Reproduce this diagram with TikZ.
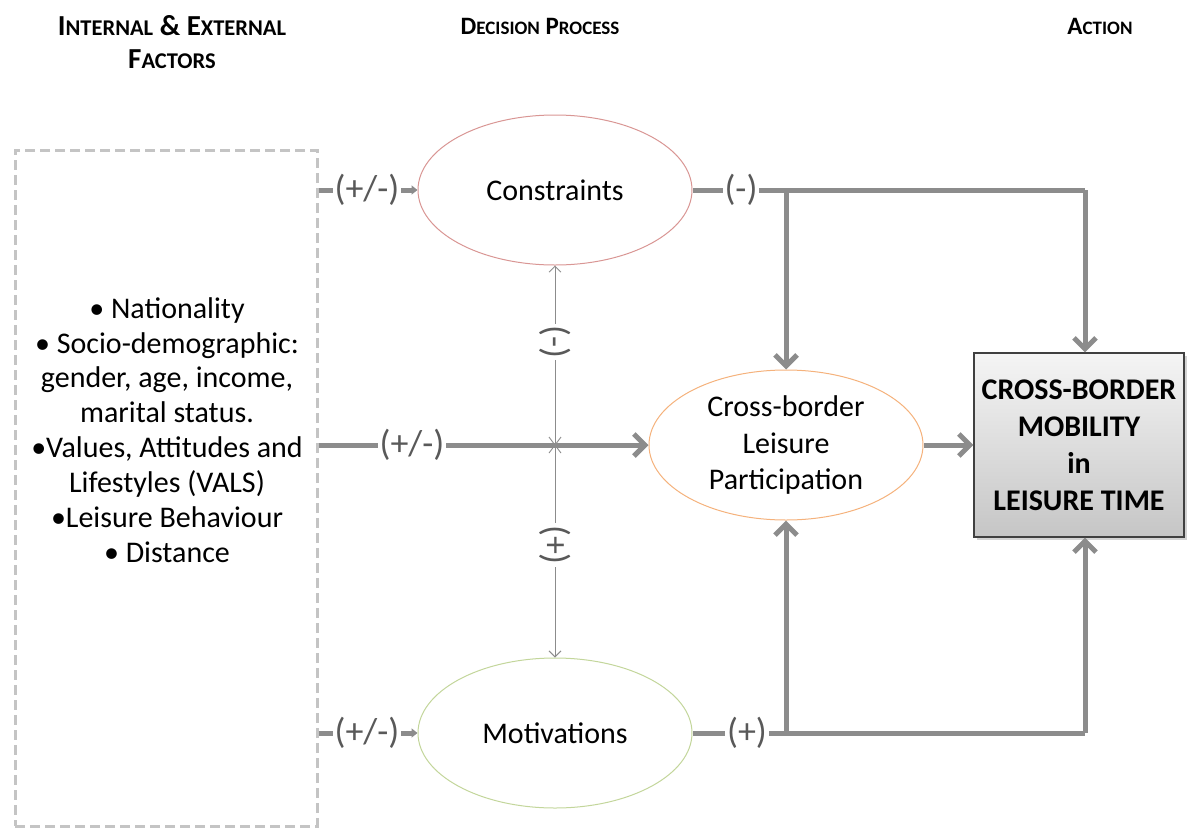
\documentclass[tikz,border=0pt]{standalone}
\usepackage{fontspec}
\setmainfont{Carlito}
\usetikzlibrary{arrows.meta,shapes.geometric,shadows,calc}

\definecolor{linegray}{HTML}{8C8C8C}
\definecolor{signgray}{HTML}{595959}
\definecolor{dashgray}{HTML}{C4C4C4}
\definecolor{consred}{HTML}{D99694}
\definecolor{partorange}{HTML}{F5B27C}
\definecolor{motigreen}{HTML}{C3D69B}

% fake small capitals for the column headings: #1 capital size, #2 small size
\newcommand\hscA[2]{{\fontsize{29}{30}\selectfont #1}{\fontsize{22.5}{30}\selectfont #2}}
\newcommand\hscB[2]{{\fontsize{25}{30}\selectfont #1}{\fontsize{19}{30}\selectfont #2}}

\tikzset{
  heading/.style={align=center, inner sep=0pt},
  factorbox/.style={draw=dashgray, line width=3pt, dash pattern=on 10pt off 5pt,
    minimum width=302pt, minimum height=676pt, inner sep=0pt},
  oval/.style={ellipse, line width=1pt, fill=white, minimum width=274pt,
    minimum height=150pt, inner sep=0pt, align=center,
    font=\fontsize{30}{36.5}\selectfont},
  actionbox/.style={draw=black!75, line width=1.2pt, top color=gray!8,
    bottom color=gray!45, minimum width=210pt, minimum height=184pt,
    inner sep=2pt, align=center, font=\fontsize{30}{37}\selectfont\bfseries,
    drop shadow={shadow xshift=3pt, shadow yshift=-3pt, opacity=0.35}},
  flow/.style={draw=linegray, line width=5pt},
  barb/.style={-{Straight Barb[length=11pt, width=22pt, line width=5pt]}},
  tip/.style={-{Triangle[length=6pt, width=9pt]}},
  fine/.style={draw=linegray, line width=0.9pt},
  finebarb/.style={{Straight Barb[length=6pt, width=12pt]}-{Straight Barb[length=6pt, width=12pt]}},
  sign/.style={fill=white, text=signgray, inner sep=2pt,
    font=\fontsize{36}{38}\selectfont},
  vsign/.style={sign, rotate=-90},
}

\begin{document}
\begin{tikzpicture}[x=1pt, y=-1pt]
\useasboundingbox (0,0) rectangle (1192,828);

% column headings
\node[heading, font=\fontsize{29}{30}\selectfont\bfseries] (h1) at (172,26)
  {\hscA{I}{NTERNAL} \hscA{\&}{} \hscA{E}{XTERNAL}};
\node[heading, font=\fontsize{29}{30}\selectfont\bfseries] (h1b) at (172,59)
  {\hscA{F}{ACTORS}};
\node[heading, font=\fontsize{25}{30}\selectfont\bfseries] (h2) at (540,26)
  {\hscB{D}{ECISION} \hscB{P}{ROCESS}};
\node[heading, font=\fontsize{25}{30}\selectfont\bfseries] (h3) at (1100,26)
  {\hscB{A}{CTION}};

% internal and external factors
\node[factorbox] (factors) at (166,488) {};
\node[align=center, inner sep=0pt, font=\fontsize{30}{34.9}\selectfont] (list) at (167,430)
  {• Nationality\\
   • Socio-demographic:\\
   gender, age, income,\\
   marital status.\\
   •Values, Attitudes and\\
   Lifestyles (VALS)\\
   •Leisure Behaviour\\
   • Distance};

% decision process
\node[oval, draw=consred] (cons) at (555,190) {Constraints};
\node[oval, draw=partorange] (part) at (786,445) {Cross-border\\Leisure\\Participation};
\node[oval, draw=motigreen] (moti) at (555,733) {Motivations};

% action
\node[actionbox] (act) at (1079,445) {CROSS-BORDER\\MOBILITY\\in\\LEISURE TIME};

% junction points of the outgoing connectors
\coordinate (ctap) at (786,190);
\coordinate (cend) at (1085,190);
\coordinate (mtap) at (786,733);
\coordinate (mend) at (1085,733);
\coordinate (cross) at (555,445);

% factors to the decision process
\draw[flow, tip] (factors.east |- cons.west) -- (cons.west);
\draw[flow, tip] (factors.east |- moti.west) -- (moti.west);
\draw[flow, barb] (factors.east |- part.west) -- (part.west);

% constraints and motivations act on each other
\draw[fine, finebarb] (cons.south) -- (moti.north);
\draw[fine] ($(cross)+(-6,-8)$) -- ($(cross)+(6,8)$)
            ($(cross)+(-6,8)$) -- ($(cross)+(6,-8)$);

% outcomes of constraints and motivations
\draw[flow] (cons.east) -- (cend);
\draw[flow, barb] (cend) -- (cend |- act.north);
\draw[flow, barb] (ctap) -- (part.north);
\draw[flow] (moti.east) -- (mend);
\draw[flow, barb] (mend) -- (mend |- act.south);
\draw[flow, barb] (mtap) -- (part.south);

% participation leads to mobility
\draw[flow, barb] (part.east) -- (act.west);

% signs on the connectors
\node[sign] (s1) at (367,190) {(+/-)};
\node[sign] (s2) at (367,733) {(+/-)};
\node[sign] (s3) at (412,445) {(+/-)};
\node[sign] (s4) at (741,190) {(-)};
\node[sign] (s5) at (747,733) {(+)};
\node[vsign] (s6) at (555,342) {(-)};
\node[vsign] (s7) at (555,545) {(+)};
\end{tikzpicture}
\end{document}
